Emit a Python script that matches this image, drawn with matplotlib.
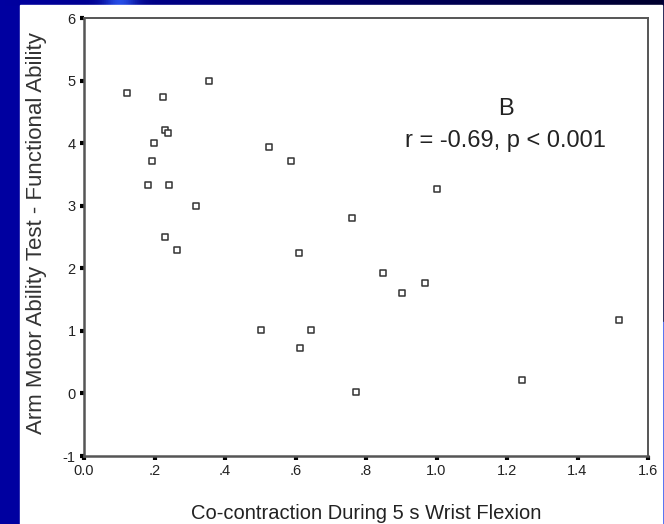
import numpy as np
import matplotlib
matplotlib.use("Agg")
import matplotlib.pyplot as plt
from matplotlib.patches import Rectangle

plt.rcParams['font.family'] = ['Liberation Sans', 'DejaVu Sans']
plt.rcParams['axes.unicode_minus'] = False

# co-contraction during 5 s wrist flexion
cocontraction = [0.121, 0.225, 0.355, 0.229, 0.238, 0.198, 0.194, 0.181, 0.242,
                 0.317, 0.229, 0.265, 0.526, 0.587, 0.611, 1.002, 0.759, 0.849,
                 0.968, 0.901, 1.518, 0.502, 0.644, 0.614, 1.242, 0.772]
# arm motor ability test - functional ability
amat = [4.80, 4.73, 5.00, 4.21, 4.17, 4.00, 3.71, 3.33, 3.33,
        3.00, 2.50, 2.30, 3.94, 3.71, 2.25, 3.27, 2.81, 1.93,
        1.76, 1.61, 1.17, 1.02, 1.02, 0.73, 0.21, 0.02]

xticks = [0.0, 0.2, 0.4, 0.6, 0.8, 1.0, 1.2, 1.4, 1.6]
xticklabels = ['0.0', '.2', '.4', '.6', '.8', '1.0', '1.2', '1.4', '1.6']
yticks = [-1, 0, 1, 2, 3, 4, 5, 6]

W, H = 664, 524
fig = plt.figure(figsize=(W / 100, H / 100), dpi=100)
fig.patch.set_facecolor('#0000a0')

# slide background
bg = fig.add_axes([0, 0, 1, 1], zorder=-10)
bg.set_xlim(0, W)
bg.set_ylim(H, 0)
bg.axis('off')
grad = np.linspace(0, 1, 300)
top = np.zeros((1, 300, 3))
top[0, :, 2] = 0.63 - 0.45 * grad
# light streak
streak = np.exp(-((grad - 0.18) / 0.025) ** 2)
top[0, :, 0] += 0.15 * streak
top[0, :, 1] += 0.3 * streak
top[0, :, 2] += 0.35 * streak
bg.imshow(np.clip(top, 0, 1), extent=[0, W, 6, 0], aspect='auto', zorder=0)
bg.add_patch(Rectangle((662, 0), 2, 322, color='#000038', zorder=1))
bg.add_patch(Rectangle((662, 322), 2, H - 322, color='#3355ee', zorder=1))
bg.add_patch(Rectangle((20, 5), 642, H - 5, color='white', zorder=2))

ax = fig.add_axes([84 / W, 1 - 456 / H, (648 - 84) / W, (456 - 18) / H])
ax.set_facecolor('white')
ax.scatter(cocontraction, amat, marker='s', s=22, facecolors='white',
           edgecolors='#333333', linewidths=1.1, zorder=3)

ax.set_xlim(0, 1.6)
ax.set_ylim(-1, 6)
ax.set_xticks(xticks)
ax.set_xticklabels(xticklabels)
ax.set_yticks(yticks)
ax.tick_params(direction='out', length=3, width=3, color='black',
               labelsize=10.5, labelcolor='#222222', pad=3)

for s in ['left', 'bottom']:
    ax.spines[s].set_color('#555555')
    ax.spines[s].set_linewidth(1.8)
for s in ['top', 'right']:
    ax.spines[s].set_color('#555555')
    ax.spines[s].set_linewidth(1.4)

ax.set_xlabel('Co-contraction During 5 s Wrist Flexion', fontsize=14.5,
              color='#222222')
ax.xaxis.set_label_coords(0.5, -0.11)
ax.set_ylabel('Arm Motor Ability Test - Functional Ability', fontsize=16,
              color='#333333')
ax.yaxis.set_label_coords(-0.065, 0.51)

ax.text(1.198, 4.55, 'B', fontsize=17, ha='center', va='center', color='#222222')
ax.text(1.195, 4.04, 'r = -0.69, p < 0.001', fontsize=17, ha='center',
        va='center', color='#222222')

fig.savefig('out.png', dpi=100, facecolor=fig.get_facecolor())
